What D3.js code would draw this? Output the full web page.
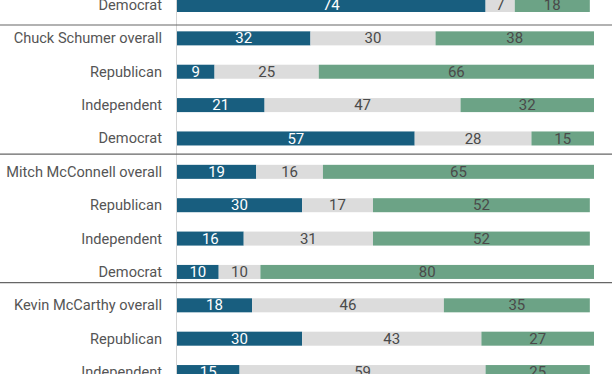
<!DOCTYPE html>
<html>
<head>
<meta charset="utf-8">
<script src="https://cdn.jsdelivr.net/npm/d3@7"></script>
<style>
    body { margin: 0; background: #fff; }
    svg { display: block; font-family: Roboto, sans-serif; }
</style>
</head>
<body>
<div class="chart"></div>
<script>
// rows as seen top to bottom (the view is cropped at both ends)
let rowLabels = [
    "Democrat",
    "Chuck Schumer overall", "Republican", "Independent", "Democrat",
    "Mitch McConnell overall", "Republican", "Independent", "Democrat",
    "Kevin McCarthy overall", "Republican", "Independent"
]

let favorable = [74, 32, 9, 21, 57, 19, 30, 16, 10, 18, 30, 15]
let neutral = [7, 30, 25, 47, 28, 16, 17, 31, 10, 46, 43, 59]
let unfavorable = [18, 38, 66, 32, 15, 65, 52, 52, 80, 35, 27, 25]

// separator lines sit after these rows
let sepAfter = [0, 4, 8]

let colors = {
    blue: "#185e7f",
    grey: "#dcdcdc",
    green: "#6ca386",
    text: "#555"
}

const width = 612
const height = 374
const x0 = 177

const data = rowLabels.map((label, i) => ({
    key: i,
    label: label,
    parts: [
        { name: "fav", value: favorable[i], color: colors.blue },
        { name: "neu", value: neutral[i], color: colors.grey },
        { name: "unf", value: unfavorable[i], color: colors.green }
    ]
}))

data.forEach(d => {
    let acc = 0
    d.parts.forEach(p => {
        p.start = acc
        acc += p.value
        p.end = acc
    })
})

const xScale = d3.scaleLinear()
    .domain([0, 100])
    .range([x0, 594])

const yScale = d3.scaleBand()
    .domain(data.map(d => d.key))
    .range([-11.7, -11.7 + 33.37 * data.length])
    .paddingInner(0.58)
    .paddingOuter(0.29)

const svg = d3.select('.chart')
    .append('svg')
    .attr('width', width)
    .attr('height', height)

// vertical baseline
svg.append('line')
    .attr('x1', x0 - 0.5)
    .attr('x2', x0 - 0.5)
    .attr('y1', 0)
    .attr('y2', height)
    .attr('stroke', '#d4d4d4')
    .attr('stroke-width', 1)

const rows = svg.append('g')
    .attr('class', 'rows')
    .selectAll('g')
    .data(data)
    .join('g')
    .attr('transform', d => `translate(0, ${yScale(d.key)})`)

rows.selectAll('rect')
    .data(d => d.parts)
    .join('rect')
    .attr('x', p => xScale(p.start))
    .attr('width', p => xScale(p.end) - xScale(p.start))
    .attr('y', 0)
    .attr('height', yScale.bandwidth())
    .style('fill', p => p.color)

rows.selectAll('.val')
    .data(d => d.parts)
    .join('text')
    .attr('class', 'val')
    .attr('x', p => (xScale(p.start) + xScale(p.end)) / 2)
    .attr('y', yScale.bandwidth() / 2)
    .attr('dy', '0.34em')
    .attr('text-anchor', 'middle')
    .attr('font-size', '15px')
    .attr('fill', p => p.name == 'fav' ? '#fff' : '#4a4a4a')
    .text(p => p.value)

rows.append('text')
    .attr('x', 162)
    .attr('y', yScale.bandwidth() / 2)
    .attr('dy', '0.34em')
    .attr('text-anchor', 'end')
    .attr('font-size', '14.6px')
    .attr('fill', colors.text)
    .text(d => d.label)

// group separators, nudged per group as in the source
let sepShift = [0.6, 0.47, 0.32]
const step = yScale.step()

svg.append('g')
    .selectAll('line')
    .data(sepAfter)
    .join('line')
    .attr('x1', 0)
    .attr('x2', width)
    .attr('y1', (r, i) => yScale(r) + yScale.bandwidth() / 2 + step * sepShift[i])
    .attr('y2', (r, i) => yScale(r) + yScale.bandwidth() / 2 + step * sepShift[i])
    .attr('stroke', '#666')
    .attr('stroke-width', 1.2)
</script>
</body>
</html>
